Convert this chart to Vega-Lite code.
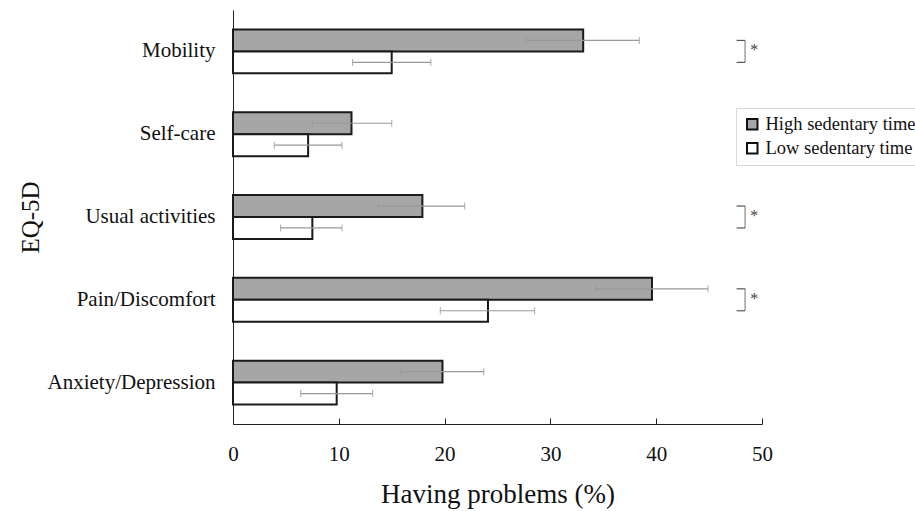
{
  "$schema": "https://vega.github.io/schema/vega-lite/v6.json",
  "width": 529,
  "height": 414,
  "autosize": "none",
  "padding": {"left": 233, "top": 10, "right": 153, "bottom": 87},
  "background": "white",
  "config": {
    "view": {"stroke": null},
    "font": "Liberation Serif",
    "axis": {"labelFont": "Liberation Serif", "titleFont": "Liberation Serif", "labelColor": "#111", "titleColor": "#111", "titleFontWeight": "normal", "grid": false, "domainColor": "#222", "tickColor": "#222"},
    "legend": {"labelFont": "Liberation Serif"}
  },
  "datasets": {
    "bars": [
      {"category": "Mobility", "group": "High sedentary time", "value": 33.1, "lo": 27.7, "hi": 38.4},
      {"category": "Mobility", "group": "Low sedentary time", "value": 15.0, "lo": 11.3, "hi": 18.7},
      {"category": "Self-care", "group": "High sedentary time", "value": 11.2, "lo": 7.5, "hi": 15.0},
      {"category": "Self-care", "group": "Low sedentary time", "value": 7.1, "lo": 3.9, "hi": 10.3},
      {"category": "Usual activities", "group": "High sedentary time", "value": 17.9, "lo": 13.7, "hi": 21.9},
      {"category": "Usual activities", "group": "Low sedentary time", "value": 7.5, "lo": 4.5, "hi": 10.3},
      {"category": "Pain/Discomfort", "group": "High sedentary time", "value": 39.6, "lo": 34.3, "hi": 44.9},
      {"category": "Pain/Discomfort", "group": "Low sedentary time", "value": 24.1, "lo": 19.6, "hi": 28.5},
      {"category": "Anxiety/Depression", "group": "High sedentary time", "value": 19.8, "lo": 15.9, "hi": 23.7},
      {"category": "Anxiety/Depression", "group": "Low sedentary time", "value": 9.8, "lo": 6.4, "hi": 13.2}
    ],
    "sig": [
      {"category": "Mobility", "group": "High sedentary time", "mark": "*"},
      {"category": "Mobility", "group": "Low sedentary time", "mark": "*"},
      {"category": "Usual activities", "group": "High sedentary time", "mark": "*"},
      {"category": "Usual activities", "group": "Low sedentary time", "mark": "*"},
      {"category": "Pain/Discomfort", "group": "High sedentary time", "mark": "*"},
      {"category": "Pain/Discomfort", "group": "Low sedentary time", "mark": "*"}
    ]
  },
  "encoding": {
    "y": {
      "field": "category",
      "type": "nominal",
      "sort": ["Mobility", "Self-care", "Usual activities", "Pain/Discomfort", "Anxiety/Depression"],
      "scale": {"paddingInner": 0.47, "paddingOuter": 0.235},
      "axis": {"title": "EQ-5D", "ticks": false, "labelFontSize": 21, "labelPadding": 18, "titleFontSize": 25, "titlePadding": 4, "domainColor": "#222"}
    },
    "yOffset": {
      "field": "group",
      "type": "nominal",
      "sort": ["High sedentary time", "Low sedentary time"]
    }
  },
  "layer": [
    {
      "data": {"name": "bars"},
      "mark": {"type": "bar", "stroke": "#1a1a1a", "strokeWidth": 2},
      "encoding": {
        "x": {
          "field": "value",
          "type": "quantitative",
          "scale": {"domain": [0, 50]},
          "axis": {"title": "Having problems (%)", "values": [0, 10, 20, 30, 40, 50], "labelFlush": false, "tickSize": -6, "tickWidth": 1, "labelFontSize": 21, "labelPadding": 25, "titleFontSize": 27, "titlePadding": 17}
        },
        "fill": {
          "field": "group",
          "type": "nominal",
          "sort": ["High sedentary time", "Low sedentary time"],
          "scale": {"range": ["#a6a6a6", "#ffffff"]},
          "legend": {
            "title": null,
            "orient": "none",
            "legendX": 503,
            "legendY": 98,
            "symbolType": "square",
            "symbolSize": 110,
            "symbolStrokeColor": "#111",
            "symbolStrokeWidth": 2,
            "labelFontSize": 18.5,
            "labelColor": "#111",
            "strokeColor": "#d9d9d9",
            "padding": 7,
            "rowPadding": 5,
            "labelOffset": 4
          }
        }
      }
    },
    {
      "data": {"name": "bars"},
      "mark": {"type": "rule", "color": "#999999", "strokeWidth": 1.2},
      "encoding": {
        "x": {"field": "lo", "type": "quantitative"},
        "x2": {"field": "hi"}
      }
    },
    {
      "data": {"name": "bars"},
      "mark": {"type": "tick", "color": "#999999", "thickness": 1.2, "size": 7, "orient": "vertical"},
      "encoding": {"x": {"field": "lo", "type": "quantitative"}}
    },
    {
      "data": {"name": "bars"},
      "mark": {"type": "tick", "color": "#999999", "thickness": 1.2, "size": 7, "orient": "vertical"},
      "encoding": {"x": {"field": "hi", "type": "quantitative"}}
    },
    {
      "data": {"name": "sig"},
      "mark": {"type": "rule", "color": "#555555", "strokeWidth": 1.2},
      "encoding": {
        "x": {"datum": 47.6},
        "x2": {"datum": 48.4}
      }
    },
    {
      "data": {"name": "sig"},
      "transform": [{"filter": "datum.group === 'High sedentary time'"}],
      "mark": {"type": "tick", "color": "#555555", "thickness": 1.2, "size": 22, "orient": "vertical"},
      "encoding": {
        "x": {"datum": 48.4},
        "yOffset": null
      }
    },
    {
      "data": {"name": "sig"},
      "transform": [{"filter": "datum.group === 'High sedentary time'"}],
      "mark": {"type": "text", "fill": "#444444", "fontSize": 16, "align": "left", "baseline": "middle", "dy": -1},
      "encoding": {
        "x": {"datum": 48.9},
        "text": {"field": "mark"},
        "yOffset": null
      }
    }
  ]
}
